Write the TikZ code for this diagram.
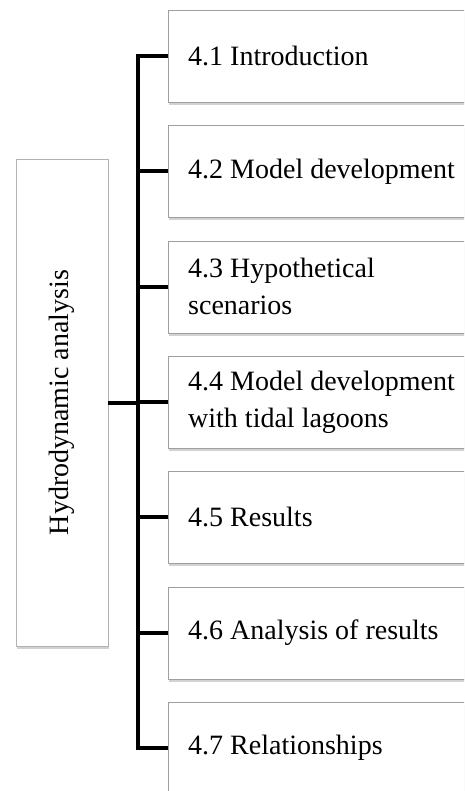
\documentclass[tikz,border=0pt]{standalone}
\usepackage{fontspec}
\setmainfont{Liberation Serif}
\usetikzlibrary{positioning}
\usetikzlibrary{shadows}
\tikzset{sec/.style={draw=gray!75,fill=white,anchor=north west,
    drop shadow={shadow xshift=1pt,shadow yshift=-3pt,fill=gray!70,opacity=.5},
    minimum width=330pt,minimum height=92pt,text width=290pt,inner xsep=20pt,
    align=flush left,font=\fontsize{28}{37}\selectfont}}
\tikzset{br/.style={line width=4pt}}

\begin{document}
\begin{tikzpicture}[x=1pt,y=-1pt]
\useasboundingbox (0,0) rectangle (464,791);
\clip (0,0) rectangle (464,791);

% main topic
\node[draw=gray!60,fill=white,minimum width=92pt,minimum height=487pt,
  drop shadow={shadow xshift=1pt,shadow yshift=-3pt,fill=gray!70,opacity=.5}]
  (hda) at (62,402.5){};
\node[rotate=90,font=\fontsize{28}{32}\selectfont](hdat) at (hda.center){Hydrodynamic analysis};

% sections
\foreach \i/\t in {1/{4.1 Introduction},2/{4.2 Model development},
  3/{4.3 Hypothetical\\scenarios},4/{4.4 Model development\\with tidal lagoons},
  5/{4.5 Results},6/{4.6 Analysis of results},7/{4.7 Relationships}}{
\node[sec](S\i) at (168, 10+115.3*\i-115.3){\t};
}

\coordinate (J) at (138,402.5);
\draw[br] (S1.west) -| (J) |- (S7.west);
\foreach \i in {2,...,6}{
\draw[br] (S\i.west) -- (S\i.west -| J);
}
\draw[br] (hda.east) -- (J);

\end{tikzpicture}
\end{document}
